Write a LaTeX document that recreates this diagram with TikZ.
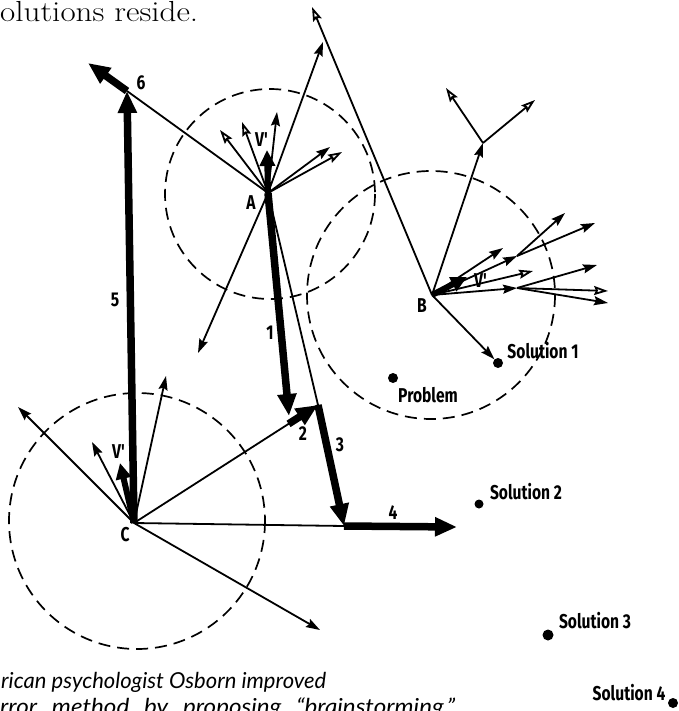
\documentclass[tikz,border=0pt]{standalone}
\usepackage{fontspec}
\usetikzlibrary{arrows.meta,calc}
\newfontfamily\labfont{Fira Sans}[FakeStretch=0.78]
\newfontfamily\capfont{Lato}
\newfontfamily\capfontwide{Lato}[FakeStretch=1.1]
\newfontfamily\topfont{Latin Modern Roman}[FakeStretch=1.14]
\begin{document}
\begin{tikzpicture}[x=1pt,y=-1pt,
  ln/.style={line width=1.8pt},
  ar/.style={ln,-{Stealth[length=14pt,width=9pt,inset=2pt]}},
  oar/.style={ln,-{Stealth[open,length=14pt,width=9pt,inset=2pt]}},
  tk/.style={line width=7.5pt,-{Triangle[length=22pt,width=18pt]}},
  vk/.style={line width=6pt,-{Triangle[length=16pt,width=15pt]}},
  circ/.style={line width=1.7pt,dash pattern=on 12pt off 7pt},
  lab/.style={font=\labfont\bfseries\fontsize{20}{20}\selectfont,inner sep=0pt},
  dot/.style={circle,fill=black,inner sep=0pt,minimum size=10pt},
  captxt/.style={anchor=base west,inner sep=0pt,font=\capfont\itshape\fontsize{22}{22}\selectfont}]
\useasboundingbox (0,0) rectangle (678,711);
\clip (0,0) rectangle (678,711);
% key points
\coordinate (A) at (268,193);
\coordinate (B) at (432,295);
\coordinate (C) at (134,523);
\coordinate (P1) at (289,416);
\coordinate (P2) at (318,405);
\coordinate (P3) at (344,526);
\coordinate (P4) at (457,527);
\coordinate (P5) at (127,91);
\coordinate (P6) at (88,63);
\coordinate (P2s) at ($(C)!0.84!(P2)$);
% circles
\draw[circ] (270,194) circle[radius=105];
\draw[circ] (431,295) circle[radius=124];
\draw[circ] (137,521) circle[radius=128];
% dots and texts
\node[dot] (prob) at (393,378) {};
\node[dot] (sol1) at (498,363) {};
\node[dot,minimum size=9pt] (sol2) at (479,504) {};
\node[dot,minimum size=11pt] (sol3) at (548,635) {};
\node[dot] (sol4) at (673,703) {};
\node[lab] (tprob) at (428,395) {Problem};
\node[lab] (tsol1) at (543,351) {Solution 1};
\node[lab] (tsol2) at (526,492) {Solution 2};
\node[lab] (tsol3) at (595,621) {Solution 3};
\node[lab] (tsol4) at (629,693) {Solution 4};
% A fan
\coordinate (Av) at (267,150);
\coordinate (Aa1) at (277,112);
\coordinate (Aa2) at (242,122);
\coordinate (Aa3) at (220,130);
\coordinate (Aa4) at (330,147);
\coordinate (Aa5) at (342,152);
\coordinate (Ap) at (323,42);
\coordinate (Ad) at (198,353);
\draw[ar] (A) -- (Aa1);
\draw[oar] (A) -- (Aa2);
\draw[oar] (A) -- (Aa3);
\draw[ar] (A) -- (Aa4);
\draw[oar] (A) -- (Aa5);
\draw[ar] (A) -- (Ap);
\draw[ar] (A) -- (Ad);
\draw[ln] (A) -- (P2);
\draw[ln] (P5) -- (A);
\draw[vk] (A) -- (Av);
% B fan
\coordinate (Bt) at (312,7);
\coordinate (Bu) at (483,143);
\coordinate (Bul) at (446,88);
\coordinate (Bur) at (535,100);
\coordinate (Bv) at (467,277);
\coordinate (Bf1) at (503,248);
\coordinate (Q1) at (517,256);
\coordinate (Q1a) at (565,213);
\coordinate (Q1b) at (595,223);
\coordinate (Bf2) at (533,271);
\coordinate (Q2) at (517,288);
\coordinate (Q2a) at (597,265);
\coordinate (Q2b) at (608,291);
\coordinate (Q2c) at (608,303);
\draw[oar] (B) -- (Bt);
\draw[ar] (B) -- (Bu);
\draw[oar] (Bu) -- (Bul);
\draw[oar] (Bu) -- (Bur);
\draw[ar] (B) -- (Bf1);
\draw[ar] (B) -- (Q1);
\draw[ar] (Q1) -- (Q1a);
\draw[ar] (Q1) -- (Q1b);
\draw[oar] (B) -- (Bf2);
\draw[ar] (B) -- (Q2);
\draw[ar] (Q2) -- (Q2a);
\draw[oar] (Q2) -- (Q2b);
\draw[ar] (Q2) -- (Q2c);
\draw[ar] (B) -- (sol1);
\draw[vk] (B) -- (Bv);
% C fan
\coordinate (Cv) at (120,463);
\coordinate (Cl) at (92,442);
\coordinate (Cu) at (166,376);
\coordinate (Cul) at (18,407);
\coordinate (Cdr) at (320,630);
\draw[ar] (C) -- (Cl);
\draw[ar] (C) -- (Cu);
\draw[ar] (C) -- (Cul);
\draw[ar] (C) -- (Cdr);
\draw[ln] (C) -- (P2);
\draw[ln] (C) -- (P3);
\draw[vk] (C) -- (Cv);
% path vectors
\draw[tk] (A) -- (P1);
\draw[tk] (P2s) -- (P2);
\draw[tk] (P2) -- (P3);
\draw[tk] (P3) -- (P4);
\draw[tk] (C) -- (P5);
\draw[tk] (P5) -- (P6);
% labels
\node[lab] (lA) at (251,203) {A};
\node[lab] (lB) at (422,306) {B};
\node[lab] (lC) at (125,535) {C};
\node[lab] (vA) at (262,140) {V\textquotesingle};
\node[lab] (vB) at (481,281) {V\textquotesingle};
\node[lab] (vC) at (119,452) {V\textquotesingle};
\node[lab] (n1) at (270,333) {1};
\node[lab] (n2) at (303,434) {2};
\node[lab] (n3) at (340,445) {3};
\node[lab] (n4) at (393,513) {4};
\node[lab] (n5) at (115,300) {5};
\node[lab] (n6) at (141,83) {6};
% surrounding texts
\node[anchor=base west,inner sep=0pt,font=\topfont\fontsize{29}{29}\selectfont] (top) at (0,22) {olutions reside.};
\node[captxt] (cap1) at (1,688) {\makebox[325pt][s]{rican psychologist Osborn improved}};
\node[captxt,font=\capfontwide\itshape\fontsize{22}{22}\selectfont] (cap2) at (0,714) {\makebox[455pt][s]{rror method by proposing “brainstorming.”}};
\end{tikzpicture}
\end{document}
